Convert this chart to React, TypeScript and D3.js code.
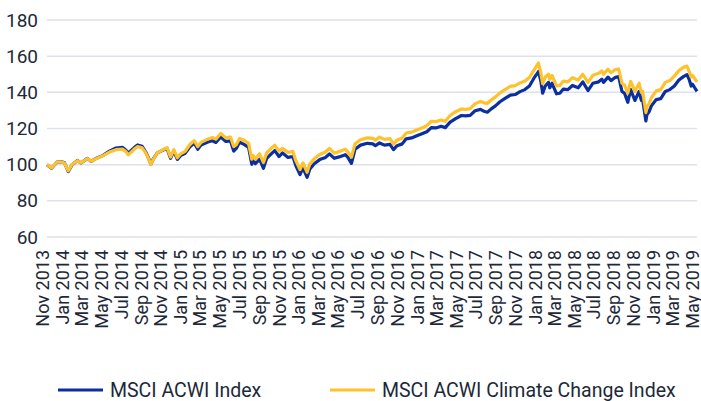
import React, { useEffect, useRef } from "react";
import * as d3 from "d3";

// Observation dates (roughly two per month, more around the sharp moves)
const dates = [
	"2013-11-29", "2013-12-13", "2013-12-31", "2014-01-15", "2014-01-22", "2014-02-03", "2014-02-14",
	"2014-03-03", "2014-03-14", "2014-04-03", "2014-04-14", "2014-05-01", "2014-05-20", "2014-06-10",
	"2014-06-30", "2014-07-20", "2014-07-31", "2014-08-07", "2014-08-29", "2014-09-05", "2014-09-19",
	"2014-09-30", "2014-10-08", "2014-10-16", "2014-10-23", "2014-11-05", "2014-11-28", "2014-12-05",
	"2014-12-16", "2014-12-26", "2015-01-06", "2015-01-16", "2015-01-30", "2015-02-13", "2015-02-27",
	"2015-03-10", "2015-03-20", "2015-04-10", "2015-04-24", "2015-05-05", "2015-05-20", "2015-06-05",
	"2015-06-19", "2015-06-29", "2015-07-07", "2015-07-17", "2015-07-31", "2015-08-14", "2015-08-24",
	"2015-08-28", "2015-09-04", "2015-09-17", "2015-09-29", "2015-10-09", "2015-10-23", "2015-11-03",
	"2015-11-16", "2015-11-27", "2015-12-14", "2015-12-29", "2016-01-07", "2016-01-20", "2016-01-29",
	"2016-02-11", "2016-02-19", "2016-03-04", "2016-03-21", "2016-04-08", "2016-04-20", "2016-05-05",
	"2016-05-20", "2016-06-08", "2016-06-16", "2016-06-27", "2016-07-08", "2016-07-25", "2016-08-15",
	"2016-09-01", "2016-09-09", "2016-09-22", "2016-10-07", "2016-10-24", "2016-11-04", "2016-11-15",
	"2016-12-01", "2016-12-13", "2016-12-30", "2017-01-13", "2017-01-27", "2017-02-15", "2017-03-01",
	"2017-03-15", "2017-03-31", "2017-04-13", "2017-04-28", "2017-05-15", "2017-06-02", "2017-06-15",
	"2017-06-29", "2017-07-14", "2017-07-31", "2017-08-11", "2017-08-21", "2017-09-01", "2017-09-15",
	"2017-09-29", "2017-10-16", "2017-10-31", "2017-11-15", "2017-11-30", "2017-12-15", "2017-12-29",
	"2018-01-12", "2018-01-26", "2018-02-02", "2018-02-08", "2018-02-16", "2018-02-26", "2018-03-02",
	"2018-03-09", "2018-03-23", "2018-04-02", "2018-04-13", "2018-04-27", "2018-05-11", "2018-05-29",
	"2018-06-12", "2018-06-28", "2018-07-13", "2018-07-31", "2018-08-10", "2018-08-15", "2018-08-29",
	"2018-09-07", "2018-09-21", "2018-10-01", "2018-10-11", "2018-10-19", "2018-10-29", "2018-11-07",
	"2018-11-20", "2018-12-03", "2018-12-10", "2018-12-14", "2018-12-24", "2018-12-27", "2019-01-03",
	"2019-01-10", "2019-01-25", "2019-02-08", "2019-02-22", "2019-03-08", "2019-03-22", "2019-04-05",
	"2019-04-19", "2019-04-30", "2019-05-07", "2019-05-13", "2019-05-17", "2019-05-23", "2019-05-31",
];

const acwi = [
	100, 98, 101.6, 101.5, 101, 96.2, 99.8,
	102.3, 100.9, 103.5, 101.8, 103.6, 105, 107.5,
	109.2, 109.6, 108, 106.3, 110, 110.9, 110.2,
	107, 104, 100.2, 103, 106.5, 108.5, 109,
	103.5, 107.5, 102.9, 105, 106.3, 109.8, 112,
	108.5, 110.8, 112.5, 113.2, 112.3, 115.3, 112.8,
	113.2, 107.5, 109, 112.4, 111.2, 109.5, 100.2,
	102.5, 100.5, 103, 98, 103.5, 106, 107.8,
	104.5, 106.5, 104, 104.5, 99.5, 94.5, 98.3,
	93, 97.5, 100.5, 102.8, 104, 106, 103.5,
	104.3, 105.5, 104, 100.7, 108.5, 110.8, 111.8,
	111.5, 110.5, 112, 110.8, 111.2, 108.3, 110.5,
	111.5, 114.3, 114.8, 115.8, 116.8, 118.2, 120.5,
	120.3, 121.2, 120.5, 123.5, 125.5, 127.2, 127,
	127.3, 129.8, 130.6, 129.5, 129, 130.7, 132.5,
	134.8, 136.8, 138.5, 138.8, 140.4, 141.5, 143.5,
	147.8, 151.5, 146.5, 139.5, 143.5, 145.5, 142.5,
	145, 139.2, 139.5, 141.8, 141.5, 143.8, 142.5,
	145.8, 141, 145, 145.8, 147.3, 145.5, 148.4,
	146.5, 148.3, 148.7, 140.5, 139.5, 134.5, 141.5,
	135.5, 140.5, 135.5, 136, 124.2, 127.5, 129.3,
	132.5, 136, 136.5, 140.5, 141.5, 143.5, 146.8,
	148.7, 149.8, 147, 143.5, 144.5, 142.8, 140.5,
];

const climate = [
	100, 98.2, 101.6, 101.4, 100.8, 96.6, 100,
	102.2, 101, 103.4, 101.9, 103.4, 104.8, 107,
	108.3, 108.6, 107.2, 105.4, 109.1, 110, 109.3,
	106.5, 103.7, 100, 102.8, 106.5, 108.8, 109.4,
	104.2, 108.3, 103.8, 106, 107.4, 111, 113.3,
	110, 112.3, 114.1, 115, 114.1, 117.2, 114.8,
	115.3, 110, 111, 114.5, 113.5, 111.8, 103,
	105, 103, 106, 101.2, 106.6, 109, 110.8,
	107.5, 109, 106.8, 107.3, 102.2, 97.3, 101,
	95.8, 100.3, 103.3, 105.6, 107, 109, 106.4,
	107.2, 108.6, 107, 104.2, 111.5, 113.8, 114.8,
	114.5, 113.6, 115.2, 114, 114.4, 111.4, 113.6,
	114.8, 117.5, 118, 119, 120, 121.6, 124,
	123.8, 124.7, 124, 127.2, 129.3, 130.8, 130.6,
	131, 133.6, 135, 134.2, 133.8, 135.6, 137.5,
	139.6, 141.7, 143.3, 143.7, 145.2, 146.3, 148.2,
	152.3, 156.2, 151, 144.8, 148.5, 150, 147.2,
	149.3, 143.6, 143.8, 146.2, 145.8, 148.1, 146.8,
	150, 145.5, 149.4, 150.5, 151.8, 150, 152.8,
	150.8, 152.6, 152.8, 145, 144, 139.5, 146,
	140.5, 145, 140, 140.5, 128.8, 132, 133.8,
	137, 140.8, 141.5, 145.5, 146.5, 149, 152,
	153.8, 154.5, 151.5, 148.5, 149.3, 147.8, 145.8,
];

const yTicks = [60, 80, 100, 120, 140, 160, 180];
const seriesNames = ["MSCI ACWI Index", "MSCI ACWI Climate Change Index"];
const seriesColors = ["#0b2f9f", "#fdc22c"];

const App = () => {
	const myRef = useRef<SVGSVGElement>(null);

	useEffect(() => {
		const w = 701;
		const h = 401;
		const left = 47;
		const right = 697;
		const top = 20;
		const bottom = 237;
		const font = "Roboto, sans-serif";
		const ink = "#1d2939";

		const parse = d3.timeParse("%Y-%m-%d");
		const rows = dates.map((d, i) => ({
			date: parse(d) as Date,
			acwi: acwi[i],
			climate: climate[i],
		}));

		// Scales
		const xScale = d3
			.scaleTime()
			.domain([parse("2013-11-29") as Date, parse("2019-05-31") as Date])
			.range([left, right]);

		const yScale = d3.scaleLinear().domain([60, 180]).range([bottom, top]);

		const svg = d3.select(myRef.current).attr("viewBox", `0 0 ${w} ${h}`);
		svg.selectAll("*").remove();

		// Gridlines
		svg
			.append("g")
			.selectAll("line")
			.data(yTicks)
			.join("line")
			.attr("x1", left)
			.attr("x2", right)
			.attr("y1", d => yScale(d))
			.attr("y2", d => yScale(d))
			.attr("stroke", "#dde1ec")
			.attr("stroke-width", 1.5);

		// y-axis labels
		const yAxis = d3.axisLeft(yScale).tickValues(yTicks).tickSize(0).tickPadding(9);
		const yG = svg.append("g").attr("transform", `translate(${left}, 0)`).call(yAxis);
		yG.select(".domain").remove();
		yG
			.selectAll("text")
			.attr("font-family", font)
			.attr("font-size", 19)
			.attr("fill", ink);

		// x-axis labels, every other month, rotated
		const monthFormat = d3.timeFormat("%b %Y");
		const xTicks = d3
			.timeMonth
			.every(2)!
			.range(new Date(2013, 10, 1), new Date(2019, 5, 1))
			.map(d => d3.timeDay.offset(d, 17));

		svg
			.append("g")
			.selectAll("text")
			.data(xTicks)
			.join("text")
			.attr("transform", d => `translate(${xScale(d)}, 250) rotate(-90)`)
			.attr("text-anchor", "end")
			.attr("dy", "0.33em")
			.attr("font-family", font)
			.attr("font-size", 18)
			.attr("fill", ink)
			.text(d => monthFormat(d));

		// Lines
		const keys: ("acwi" | "climate")[] = ["acwi", "climate"];
		keys.forEach((key, i) => {
			svg
				.append("path")
				.datum(rows)
				.attr("fill", "none")
				.attr("stroke", seriesColors[i])
				.attr("stroke-width", 3.2)
				.attr("stroke-linejoin", "round")
				.attr(
					"d",
					d3
						.line<any>()
						.x(d => xScale(d.date))
						.y(d => yScale(d[key]))
				);
		});

		// Legend
		const legendX = [58, 330];
		const legend = svg
			.append("g")
			.selectAll("g")
			.data(seriesNames)
			.join("g")
			.attr("transform", (d, i) => `translate(${legendX[i]}, 390)`);

		legend
			.append("line")
			.attr("x1", 0)
			.attr("x2", 45)
			.attr("stroke", (d, i) => seriesColors[i])
			.attr("stroke-width", 3);

		legend
			.append("text")
			.attr("x", 52)
			.attr("dy", "0.35em")
			.attr("font-family", font)
			.attr("font-size", 19.5)
			.attr("fill", ink)
			.text(d => d);
	}, []);

	return (
		<svg
			ref={myRef}
			width={701}
			height={401}
			style={{ position: "absolute", left: 0, top: 0, background: "#fff" }}
		/>
	);
};

export default App;
